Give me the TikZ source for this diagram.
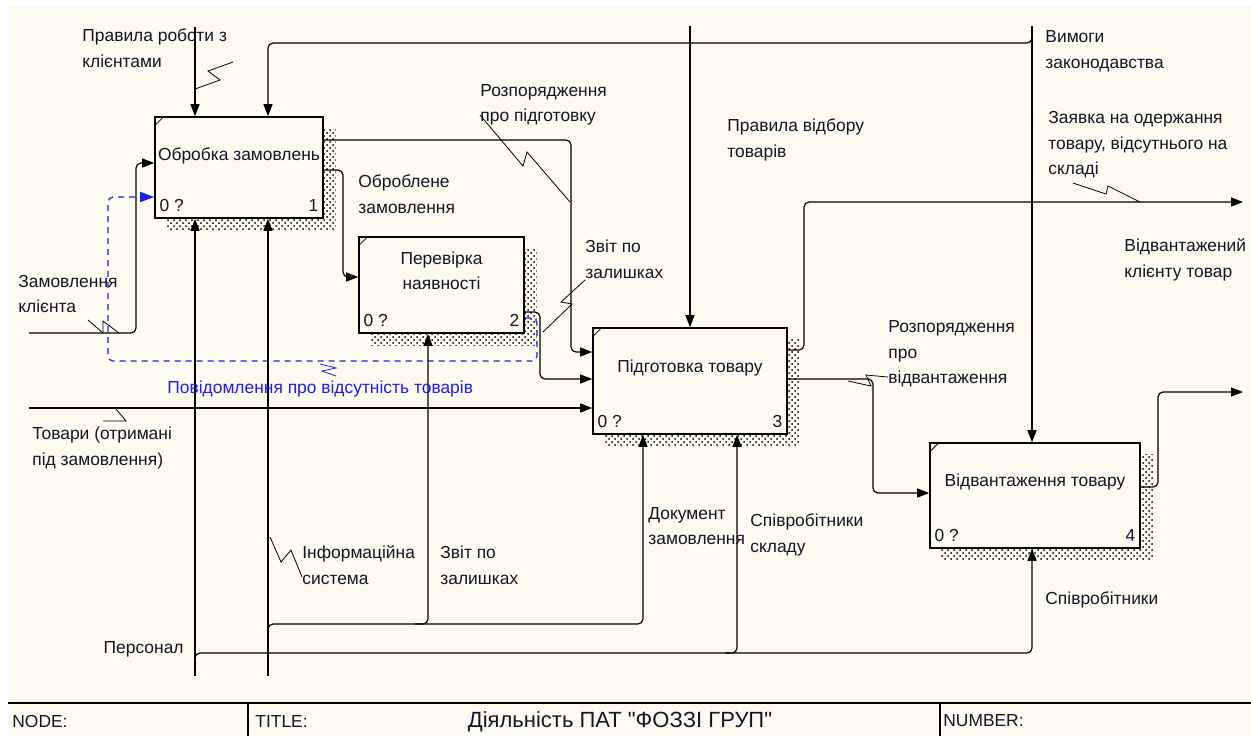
\documentclass[tikz,border=0pt]{standalone}
\usepackage{fontspec}
\setmainfont{Liberation Sans}
\newfontfamily\titlefont{Liberation Sans}[Ligatures=TeXOff]
\usetikzlibrary{backgrounds,patterns}
\usetikzlibrary{arrows.meta}

\definecolor{paper}{RGB}{253,250,240}
\definecolor{ink}{RGB}{20,20,40}
\definecolor{msgblue}{RGB}{30,30,235}

\tikzset{
  func/.style={draw,fill=paper,line width=0.8pt,inner sep=0pt},
  lbl/.style={font=\fontsize{8.7}{12.8}\selectfont,text=ink,align=left,inner sep=0pt,anchor=west},
  arr/.style={line width=0.6pt,rounded corners=2.5pt,-{Triangle[length=6pt,width=4.5pt]}},
  msg/.style={arr,draw=msgblue,dash pattern=on 3pt off 2.5pt,-{Triangle[length=7pt,width=5pt]}},
  squig/.style={line width=0.4pt},
  shade/.style={pattern=crosshatch dots,pattern color=black}
}

\begin{document}
\begin{tikzpicture}[x=0.5pt,y=-0.5pt]
\useasboundingbox (0,0) rectangle (1251,736);

\node [func,minimum width=84pt,minimum height=50.5pt] (b1) at (239,167.5) {};
\node [func,minimum width=82.5pt,minimum height=48pt] (b2) at (441.5,285) {};
\node [func,minimum width=97pt,minimum height=53pt] (b3) at (690,381) {};
\node [func,minimum width=105pt,minimum height=52.5pt] (b4) at (1035,495.5) {};

\node [lbl,anchor=center,align=center] (b1t) at ([yshift=-20pt]b1.north) {Обробка замовлень};
\node [lbl,anchor=center,align=center] (b2t) at ([yshift=-17.25pt]b2.north) {Перевірка\\наявності};
\node [lbl,anchor=center,align=center] (b3t) at ([yshift=-20.5pt]b3.north) {Підготовка товару};
\node [lbl,anchor=center,align=center] (b4t) at ([yshift=-20pt]b4.north) {Відвантаження товару};

\foreach \b/\n in {b1/1,b2/2,b3/3,b4/4} {
  \draw [line width=0.4pt] ([yshift=-5pt]\b.north west) -- ([xshift=5pt]\b.north west);
  \node [lbl,anchor=south west] (\b z) at ([shift={(2.5pt,3.5pt)}]\b.south west) {0 ?};
  \node [lbl,anchor=south east] (\b n) at ([shift={(-2.5pt,3.5pt)}]\b.south east) {\n};
}

% controls
\coordinate (c1) at (195,27);
\coordinate (c2) at (1032,26);
\coordinate (c3) at (690,26);
\draw [arr] (c1) -- (195,0 |- b1.north);
\draw [arr] (c3) -- (690,0 |- b3.north);
\draw [arr] (c2) -- (1032,0 |- b4.north);
\draw [arr] (1032,34) |- (268,43) -- (268,0 |- b1.north);

% inputs
\coordinate (i1) at (29,333);
\coordinate (i2) at (29,408);
\draw [arr] (i1) -| (136,163) -- (b1.west |- 0,163);
\draw [arr] (i2) -- (b3.west |- 0,408);
\draw [msg] (b2.east |- 0,318) -| (537,361) -| (108,197) -- (b1.west |- 0,197);

% outputs
\coordinate (o1) at (1243,202);
\coordinate (o2) at (1243,392);
\draw [arr] (b1.east |- 0,170) -| (343,277) -- (b2.west |- 0,277);
\draw [arr] (b1.east |- 0,140) -| (571,352) -- (b3.west |- 0,352);
\draw [arr] (b2.east |- 0,312) -| (540,379) -- (b3.west |- 0,379);
\draw [arr] (b3.east |- 0,350) -| (804,202) -- (o1);
\draw [arr] (b3.east |- 0,379) -| (873,493) -- (b4.west |- 0,493);
\draw [arr] (b4.east |- 0,487) -| (1158,392) -- (o2);

% mechanisms
\coordinate (m1) at (195,676);
\coordinate (m2) at (268,676);
\draw [arr] (m1) -- (195,0 |- b1.south);
\draw [arr] (m2) -- (268,0 |- b1.south);
\draw [arr] (268,632) |- (643,624) -- (643,0 |- b3.south);
\draw [arr] (415,624) -| (428,0 |- b2.south);
\draw [arr] (195,661) |- (1032,653) -- (1032,0 |- b4.south);
\draw [arr] (725,653) -| (737,0 |- b3.south);

% label leaders
\draw [squig] (195,89) -- (220,80) -- (208,71) -- (233,62);
\draw [squig] (480,115) -- (523,166) -- (527,152) -- (570,202);
\draw [squig] (543,332) -- (572,304) -- (561,302) -- (585,280);
\draw [squig] (88,320) -- (103,333) -- (103,321) -- (119,333);
\draw [squig] (103,421) -- (126,421) -- (116,409);
\draw [squig,msgblue] (320,364) -- (336,368) -- (322,371) -- (336,376);
\draw [squig] (270,537) -- (281,562) -- (291,550) -- (302,577);
\draw [squig] (848,381) -- (871,386) -- (866,375) -- (888,377);
\draw [squig] (1073,183) -- (1106,194) -- (1108,186) -- (1140,202);

\node [lbl] (l1) at (82,48) {Правила роботи з\\клієнтами};
\node [lbl] (l2) at (1045,51) {Вимоги\\законодавства};
\node [lbl] (l3) at (480,105) {Розпорядження\\про підготовку};
\node [lbl] (l4) at (727,140) {Правила відбору\\товарів};
\node [lbl] (l5) at (1048,145) {Заявка на одержання\\товару, відсутнього на\\складі};
\node [lbl] (l6) at (358,194) {Оброблене\\замовлення};
\node [lbl] (l7) at (585,259) {Звіт по\\залишках};
\node [lbl] (l8) at (1124,260) {Відвантажений\\клієнту товар};
\node [lbl] (l9) at (18,294) {Замовлення\\клієнта};
\node [lbl] (l10) at (888,354) {Розпорядження\\про\\відвантаження};
\node [lbl,text=msgblue] (l11) at (167,389) {Повідомлення про відсутність товарів};
\node [lbl] (l12) at (32,448) {Товари (отримані\\під замовлення)};
\node [lbl] (l13) at (648,526) {Документ\\замовлення};
\node [lbl] (l14) at (750,535) {Співробітники\\складу};
\node [lbl] (l15) at (302,565) {Інформаційна\\система};
\node [lbl] (l16) at (440,565) {Звіт по\\залишках};
\node [lbl,anchor=east] (l17) at (184,649) {Персонал};
\node [lbl] (l18) at (1045,600) {Співробітники};

% footer
\draw [line width=1pt] (8,703) -- (1251,703);
\draw [line width=0.6pt] (248,703) -- (248,736);
\draw [line width=0.6pt] (940,703) -- (940,736);
\node [lbl] (f1) at (12,721) {NODE:};
\node [lbl] (f2) at (255,721) {TITLE:};
\node [lbl,anchor=center,font=\titlefont\fontsize{11}{13}\selectfont] (f3) at (620,722) {Діяльність ПАТ "ФОЗЗІ ГРУП"};
\node [lbl] (f4) at (943,721) {NUMBER:};

\begin{scope}[on background layer]
\fill [paper] (8,6) rectangle (1251,736);
\foreach \b in {b1,b2,b3,b4}
  \fill [shade] ([shift={(6pt,-6pt)}]\b.south west) rectangle ([shift={(6pt,-6pt)}]\b.north east);
\end{scope}
\end{tikzpicture}
\end{document}
